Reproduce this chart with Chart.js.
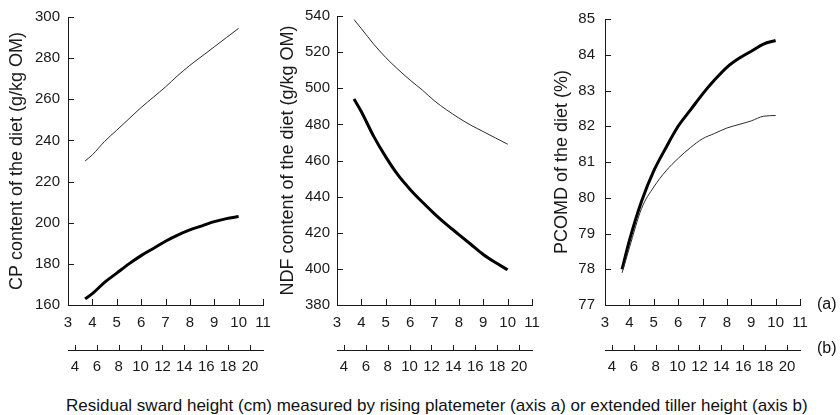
<!DOCTYPE html>
<html lang="en">
<head>
  <meta charset="UTF-8">
  <title>Diet quality vs residual sward height</title>
  <script src="https://cdn.jsdelivr.net/npm/chart.js"></script>
  <style>
    body {
      margin: 0;
      background: #fff;
      font-family: 'Liberation Sans', Arial, sans-serif;
      color: #111;
    }
    #wrap {
      position: relative;
      width: 840px;
      height: 415px;
      overflow: hidden;
    }
    #wrap canvas {
      position: absolute;
      top: 0;
    }
    .lbl {
      position: absolute;
      font-size: 16px;
      line-height: 16px;
      white-space: nowrap;
    }
    .xtitle {
      font-size: 17px;
      line-height: 17px;
    }
  </style>
</head>
<body>

<div id="wrap">
  <canvas id="cpChart" width="285" height="380" style="left:0px"></canvas>
  <canvas id="ndfChart" width="285" height="380" style="left:271px"></canvas>
  <canvas id="pcomdChart" width="285" height="380" style="left:545px"></canvas>
  <div class="lbl" style="left:817px; top:296px">(a)</div>
  <div class="lbl" style="left:817px; top:340px">(b)</div>
  <div class="lbl xtitle" style="left:66px; top:397px">Residual sward height (cm) measured by rising platemeter (axis a) or extended tiller height (axis b)</div>
</div>

<script>
// residual sward height, axis a (cm)
const heightA = [3.7, 4, 4.5, 5, 5.5, 6, 6.5, 7, 7.5, 8, 8.5, 9, 9.5, 10];

// CP content (g/kg OM)
const cpThin  = [230, 233, 239.5, 245, 250.5, 256, 261, 266, 271.5, 276.5, 281, 285.5, 290, 294.5];
const cpThick = [163, 165.5, 171, 175.5, 180, 184, 187.5, 191, 194, 196.5, 198.5, 200.5, 202, 203];

// NDF content (g/kg OM)
const ndfThin  = [538, 533, 524.5, 517, 510.5, 504.5, 499, 493, 488, 483.5, 479.5, 476, 472.5, 469];
const ndfThick = [494, 487, 473.5, 462, 452, 444, 437, 430.5, 424.5, 419, 413.5, 408, 403.5, 399.5];

// PCOMD (%)
const pcomdThin  = [77.9, 78.6, 79.7, 80.3, 80.75, 81.1, 81.4, 81.65, 81.8, 81.95, 82.05, 82.15, 82.28, 82.3];
const pcomdThick = [78.0, 78.8, 79.9, 80.75, 81.4, 82.0, 82.45, 82.9, 83.3, 83.65, 83.9, 84.1, 84.3, 84.4];

// tick labels
const ticksA = [3, 4, 5, 6, 7, 8, 9, 10, 11];
const ticksB = [4, 6, 8, 10, 12, 14, 16, 18, 20];
const cpTicks = [160, 180, 200, 220, 240, 260, 280, 300];
const ndfTicks = [380, 400, 420, 440, 460, 480, 500, 520, 540];
const pcomdTicks = [77, 78, 79, 80, 81, 82, 83, 84, 85];

const FONT = "'Liberation Sans', Arial, sans-serif";
const INK = '#1a1a1a';

// short tick marks pointing into the plot (and up from axis b)
const innerTicks = {
  id: 'innerTicks',
  afterDraw(chart) {
    const ctx = chart.ctx;
    const area = chart.chartArea;
    const xa = chart.scales.x, xb = chart.scales.xb, y = chart.scales.y;
    ctx.save();
    ctx.strokeStyle = INK;
    ctx.lineWidth = 1;
    ctx.beginPath();
    xa.ticks.forEach(t => {
      if (t.value <= xa.min) return;
      const px = Math.round(xa.getPixelForValue(t.value)) + 0.5;
      ctx.moveTo(px, area.bottom);
      ctx.lineTo(px, area.bottom - 6);
    });
    y.ticks.forEach(t => {
      if (t.value <= y.min) return;
      const py = Math.round(y.getPixelForValue(t.value)) + 0.5;
      ctx.moveTo(area.left, py);
      ctx.lineTo(area.left + 6, py);
    });
    xb.ticks.forEach(t => {
      const px = Math.round(xb.getPixelForValue(t.value)) + 0.5;
      ctx.moveTo(px, xb.top);
      ctx.lineTo(px, xb.top - 5);
    });
    ctx.stroke();
    ctx.restore();
  }
};

function pts(ys) {
  return heightA.map((h, i) => ({ x: h, y: ys[i] }));
}

function makePanel(id, opts) {
  const tickFont = { family: FONT, size: 15 };
  return new Chart(document.getElementById(id), {
    type: 'line',
    data: {
      datasets: [
        { label: 'thin', data: pts(opts.thin), borderColor: '#2a2a2a', borderWidth: 1, pointRadius: 0, tension: 0.4, cubicInterpolationMode: 'monotone' },
        { label: 'thick', data: pts(opts.thick), borderColor: '#000', borderWidth: 3, pointRadius: 0, tension: 0.4, cubicInterpolationMode: 'monotone' }
      ]
    },
    options: {
      responsive: false,
      animation: false,
      events: [],
      layout: { padding: { left: 0, right: opts.padRight, top: 14, bottom: 0 } },
      plugins: { legend: { display: false }, tooltip: { enabled: false } },
      scales: {
        x: {
          type: 'linear',
          position: 'bottom',
          weight: 0,
          min: 3, max: 11,
          grid: { display: false, drawTicks: false },
          border: { display: true, color: INK, width: 1 },
          ticks: { color: INK, font: tickFont, padding: 9, maxRotation: 0 },
          afterBuildTicks: s => { s.ticks = ticksA.map(v => ({ value: v })); },
          afterFit: s => { s.height = 45; }
        },
        xb: {
          type: 'linear',
          position: 'bottom',
          weight: 1,
          min: 3.36, max: 21.19,
          grid: { display: false, drawTicks: false },
          border: { display: true, color: INK, width: 1 },
          ticks: { color: INK, font: tickFont, padding: 8, maxRotation: 0 },
          afterBuildTicks: s => { s.ticks = ticksB.map(v => ({ value: v })); },
          afterFit: s => { s.height = 30; }
        },
        y: {
          type: 'linear',
          min: opts.yTicks[0],
          max: opts.yTicks[opts.yTicks.length - 1],
          grid: { display: false, drawTicks: false },
          border: { display: true, color: INK, width: 1 },
          ticks: { color: INK, font: tickFont, padding: opts.yPad },
          afterBuildTicks: s => { s.ticks = opts.yTicks.map(v => ({ value: v })); },
          afterFit: s => { s.width = opts.yWidth; },
          title: {
            display: true,
            text: opts.title,
            color: INK,
            font: { family: FONT, size: 18 },
            padding: { top: 6, bottom: 0 }
          }
        }
      }
    },
    plugins: [innerTicks]
  });
}

makePanel('cpChart', {
  thin: cpThin, thick: cpThick, yTicks: cpTicks, yWidth: 68, padRight: 22, yPad: 8,
  title: 'CP content of the diet (g/kg OM)'
});
makePanel('ndfChart', {
  thin: ndfThin, thick: ndfThick, yTicks: ndfTicks, yWidth: 66, padRight: 24, yPad: 7,
  title: 'NDF content of the diet (g/kg OM)'
});
makePanel('pcomdChart', {
  thin: pcomdThin, thick: pcomdThick, yTicks: pcomdTicks, yWidth: 60, padRight: 30, yPad: 10,
  title: 'PCOMD of the diet (%)'
});
</script>

</body>
</html>
